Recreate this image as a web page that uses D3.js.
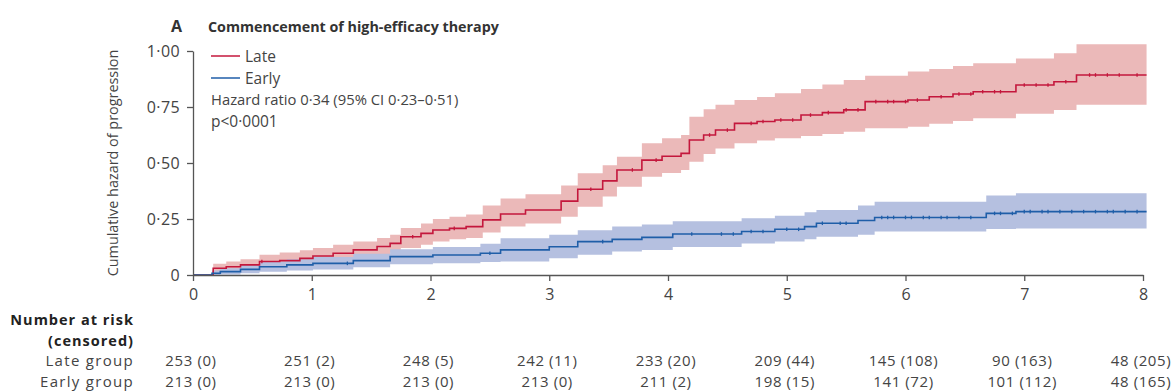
<!DOCTYPE html>
<html>
<head>
<meta charset="utf-8">
<script src="https://cdn.jsdelivr.net/npm/d3@7"></script>
<style>
  body { margin: 0; background: #fff; }
  svg { display: block; font-family: "Open Sans", sans-serif; }
</style>
</head>
<body>
<svg id="chart" width="1174" height="392"></svg>
<script>
// Late group: step times, estimate, lower and upper 95% CI
var lateTime  = [0, 0.15, 0.17, 0.28, 0.40, 0.56, 0.73, 0.90, 1.01, 1.18, 1.35, 1.55, 1.66, 1.75, 1.92, 2.02, 2.16, 2.30, 2.44, 2.59, 2.80, 3.10, 3.24, 3.45, 3.57, 3.78, 3.95, 4.11, 4.18, 4.30, 4.40, 4.56, 4.75, 4.90, 5.12, 5.30, 5.48, 5.66, 6.02, 6.20, 6.40, 6.57, 6.93, 7.25, 7.44, 8.03];
var lateEst   = [0, 0, 0.030, 0.037, 0.045, 0.060, 0.064, 0.074, 0.085, 0.097, 0.112, 0.127, 0.141, 0.171, 0.186, 0.201, 0.208, 0.216, 0.246, 0.272, 0.290, 0.330, 0.383, 0.420, 0.469, 0.513, 0.530, 0.543, 0.603, 0.625, 0.647, 0.677, 0.685, 0.692, 0.714, 0.725, 0.737, 0.774, 0.781, 0.796, 0.808, 0.818, 0.848, 0.863, 0.893, 0.893];
var lateLower = [0, 0, 0.005, 0.010, 0.015, 0.025, 0.030, 0.040, 0.050, 0.060, 0.070, 0.085, 0.100, 0.120, 0.135, 0.150, 0.160, 0.165, 0.190, 0.216, 0.230, 0.260, 0.305, 0.350, 0.394, 0.439, 0.455, 0.469, 0.506, 0.540, 0.565, 0.588, 0.600, 0.610, 0.620, 0.630, 0.640, 0.655, 0.662, 0.675, 0.688, 0.700, 0.720, 0.737, 0.760, 0.760];
var lateUpper = [0, 0, 0.050, 0.060, 0.070, 0.090, 0.100, 0.110, 0.120, 0.135, 0.150, 0.165, 0.180, 0.210, 0.230, 0.250, 0.260, 0.270, 0.310, 0.342, 0.360, 0.400, 0.454, 0.490, 0.528, 0.588, 0.610, 0.625, 0.707, 0.740, 0.760, 0.781, 0.795, 0.811, 0.830, 0.850, 0.870, 0.890, 0.908, 0.920, 0.933, 0.945, 0.967, 0.990, 1.030, 1.030];
var lateCensor = [0.58, 1.85, 2.2, 3.35, 3.7, 3.9, 4.35, 4.5, 4.7, 4.8, 4.95, 5.05, 5.2, 5.35, 5.5, 5.6, 5.75, 5.85, 5.9, 6.0, 6.1, 6.3, 6.45, 6.55, 6.65, 6.75, 6.8, 7.0, 7.1, 7.2, 7.35, 7.55, 7.6, 7.7, 7.8, 7.95];

// Early group
var earlyTime  = [0, 0.14, 0.16, 0.23, 0.40, 0.56, 0.79, 1.01, 1.35, 1.66, 2.02, 2.42, 2.59, 3.00, 3.24, 3.53, 3.78, 4.04, 4.62, 4.90, 5.15, 5.25, 5.60, 5.74, 6.68, 6.93, 8.03];
var earlyEst   = [0, 0, 0.008, 0.015, 0.025, 0.037, 0.045, 0.052, 0.064, 0.082, 0.089, 0.097, 0.112, 0.126, 0.149, 0.159, 0.168, 0.183, 0.194, 0.204, 0.216, 0.231, 0.243, 0.257, 0.275, 0.283, 0.283];
var earlyLower = [0, 0, 0, 0.002, 0.008, 0.015, 0.020, 0.025, 0.035, 0.048, 0.052, 0.058, 0.060, 0.075, 0.090, 0.105, 0.112, 0.125, 0.141, 0.150, 0.160, 0.171, 0.180, 0.194, 0.205, 0.208, 0.208];
var earlyUpper = [0, 0, 0.020, 0.030, 0.045, 0.060, 0.070, 0.080, 0.095, 0.115, 0.125, 0.140, 0.164, 0.180, 0.200, 0.216, 0.225, 0.240, 0.253, 0.265, 0.280, 0.290, 0.310, 0.327, 0.355, 0.365, 0.365];
var earlyCensor = [1.3, 2.5, 3.45, 4.2, 4.45, 4.55, 4.7, 4.8, 5.0, 5.1, 5.3, 5.45, 5.5, 5.8, 5.85, 5.9, 6.0, 6.05, 6.15, 6.2, 6.3, 6.35, 6.45, 6.55, 6.75, 6.8, 6.9, 7.0, 7.05, 7.15, 7.2, 7.3, 7.4, 7.5, 7.6, 7.7, 7.75, 7.85, 7.95];

// Number at risk table
var riskYears = [0, 1, 2, 3, 4, 5, 6, 7, 8];
var lateAtRisk = [253, 251, 248, 242, 233, 209, 145, 90, 48];
var lateCensored = [0, 2, 5, 11, 20, 44, 108, 163, 205];
var earlyAtRisk = [213, 213, 213, 213, 211, 198, 141, 101, 48];
var earlyCensored = [0, 0, 0, 0, 2, 15, 72, 112, 165];

var yTicks = [0, 0.25, 0.5, 0.75, 1];
var xTicks = [0, 1, 2, 3, 4, 5, 6, 7, 8];

var colors = {
  late: "#c4173c", lateBand: "#ebb9b9",
  early: "#1f5ea8", earlyBand: "#b5c0e0",
  axis: "#555", text: "#444"
};

var svg = d3.select("#chart");
var x = d3.scaleLinear().domain([0, 8]).range([193, 1143]);
var y = d3.scaleLinear().domain([0, 1]).range([275, 51]);

function lancet(v) {
  // tick format with the middle dot decimal point
  if (v === 0) return "0";
  return d3.format(".2f")(v).replace(".", "\u00b7");
}

function rows(t, est, lo, hi) {
  return t.map(function(d, i){ return {t: d, v: est[i], lo: lo[i], hi: hi[i]}; });
}

function stepValue(data, t) {
  var v = 0;
  data.forEach(function(d){ if (d.t <= t) v = d.v; });
  return v;
}

var late = rows(lateTime, lateEst, lateLower, lateUpper);
var early = rows(earlyTime, earlyEst, earlyLower, earlyUpper);

var band = d3.area()
  .curve(d3.curveStepAfter)
  .x(function(d){ return x(d.t); })
  .y0(function(d){ return y(d.lo); })
  .y1(function(d){ return y(d.hi); });

var line = d3.line()
  .curve(d3.curveStepAfter)
  .x(function(d){ return x(d.t); })
  .y(function(d){ return y(d.v); });

var series = [
  { id: "late", data: late, censor: lateCensor, color: colors.late, band: colors.lateBand },
  { id: "early", data: early, censor: earlyCensor, color: colors.early, band: colors.earlyBand }
];

// bands first, then lines
svg.selectAll(".band")
  .data(series)
  .enter().append("path")
  .attr("class", "band")
  .attr("fill", function(d){ return d.band; })
  .attr("d", function(d){ return band(d.data); });

var g = svg.selectAll(".curve")
  .data(series)
  .enter().append("g")
  .attr("class", "curve");

g.append("path")
  .attr("fill", "none")
  .attr("stroke", function(d){ return d.color; })
  .attr("stroke-width", 1.6)
  .attr("d", function(d){ return line(d.data); });

// censor marks
g.each(function(s){
  d3.select(this).selectAll("line.censor")
    .data(s.censor)
    .enter().append("line")
    .attr("class", "censor")
    .attr("x1", function(t){ return x(t); })
    .attr("x2", function(t){ return x(t); })
    .attr("y1", function(t){ return y(stepValue(s.data, t)) - 1.8; })
    .attr("y2", function(t){ return y(stepValue(s.data, t)) + 1.8; })
    .attr("stroke", s.color)
    .attr("stroke-width", 1.3);
});

// axes
var xAxis = svg.append("g")
  .attr("transform", "translate(0," + y(0) + ")")
  .call(d3.axisBottom(x).tickValues(xTicks).tickFormat(d3.format("d")).tickSize(6).tickSizeOuter(0));

var yAxis = svg.append("g")
  .attr("transform", "translate(" + x(0) + ",0)")
  .call(d3.axisLeft(y).tickValues(yTicks).tickFormat(lancet).tickSize(6).tickSizeOuter(0));

[xAxis, yAxis].forEach(function(a){
  a.selectAll("path, line").attr("stroke", colors.axis).attr("stroke-width", 1.3);
  a.selectAll("text")
    .attr("fill", colors.text)
    .style("font-family", "'Open Sans', sans-serif")
    .style("font-size", "16px");
});
xAxis.selectAll("text").attr("dy", "1.0em");
yAxis.selectAll("text").attr("dx", "-0.25em").style("letter-spacing", "0.4px");

// title
svg.append("text")
  .attr("x", 171).attr("y", 32)
  .attr("fill", "#333")
  .style("font-size", "16px").style("font-weight", "bold")
  .text("A");
svg.append("text")
  .attr("x", 208).attr("y", 32)
  .attr("fill", "#333")
  .style("font-size", "14.3px").style("font-weight", "bold")
  .text("Commencement of high-efficacy therapy");

// y axis title
svg.append("text")
  .attr("transform", "translate(118," + y(0.5) + ") rotate(-90)")
  .attr("text-anchor", "middle")
  .attr("fill", colors.text)
  .style("font-size", "14.4px")
  .text("Cumulative hazard of progression");

// legend
var legend = svg.append("g").attr("transform", "translate(211,0)");
var legendItems = [
  { label: "Late", color: colors.late, y: 56 },
  { label: "Early", color: colors.early, y: 78 }
];
legendItems.forEach(function(d){
  legend.append("line")
    .attr("x1", 0).attr("x2", 29)
    .attr("y1", d.y).attr("y2", d.y)
    .attr("stroke", d.color).attr("stroke-width", 1.5);
  legend.append("text")
    .attr("x", 34).attr("y", d.y + 5.5)
    .attr("fill", colors.text)
    .style("font-size", "15.5px")
    .text(d.label);
});
legend.append("text")
  .attr("x", 0).attr("y", 105)
  .attr("fill", colors.text)
  .style("font-size", "14.8px")
  .text("Hazard ratio 0\u00b734 (95% CI 0\u00b723\u20130\u00b751)");
legend.append("text")
  .attr("x", 0).attr("y", 127)
  .attr("fill", colors.text)
  .style("font-size", "15.5px")
  .text("p<0\u00b70001");

// number at risk table
var table = svg.append("g");
var rowLabels = [
  { text: "Number at risk", y: 325, bold: true },
  { text: "(censored)", y: 346, bold: true },
  { text: "Late group", y: 366, bold: false },
  { text: "Early group", y: 387, bold: false }
];
table.selectAll(".row-label")
  .data(rowLabels)
  .enter().append("text")
  .attr("class", "row-label")
  .attr("x", 134).attr("y", function(d){ return d.y; })
  .attr("text-anchor", "end")
  .attr("fill", function(d){ return d.bold ? "#222" : colors.text; })
  .style("font-size", function(d){ return d.bold ? "14.5px" : "15px"; })
  .style("letter-spacing", function(d){ return d.bold ? "1px" : "1.3px"; })
  .style("font-weight", function(d){ return d.bold ? "bold" : "normal"; })
  .text(function(d){ return d.text; });

function riskRow(atRisk, cens, yy) {
  table.selectAll(null)
    .data(riskYears)
    .enter().append("text")
    .attr("x", function(d){ return x(d) - 2; })
    .attr("y", yy)
    .attr("text-anchor", "middle")
    .attr("fill", colors.text)
    .style("font-size", "15px")
    .style("letter-spacing", "0.6px")
    .text(function(d, i){ return atRisk[i] + " (" + cens[i] + ")"; });
}
riskRow(lateAtRisk, lateCensored, 366);
riskRow(earlyAtRisk, earlyCensored, 387);
</script>
</body>
</html>
